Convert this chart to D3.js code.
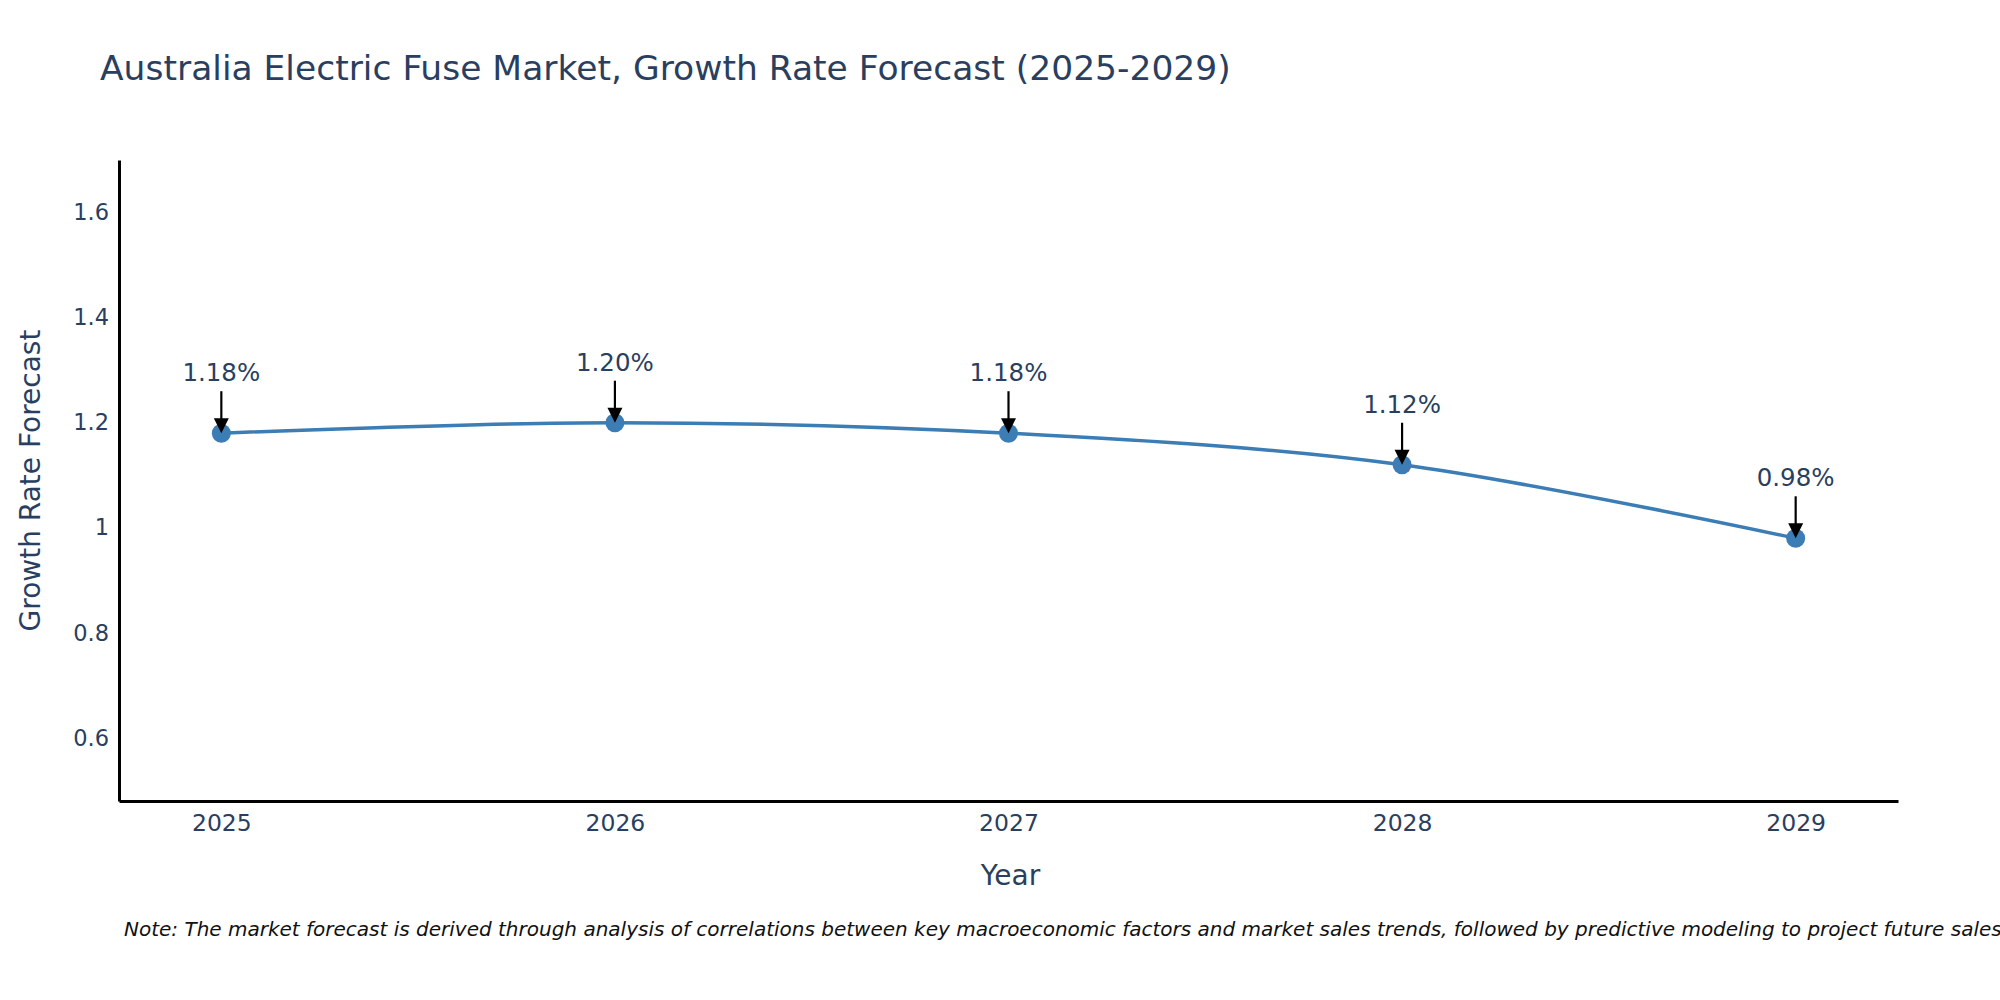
<!DOCTYPE html>
<html>
<head>
<meta charset="utf-8">
<script src="https://cdn.jsdelivr.net/npm/d3@7"></script>
<style>
  html, body { margin: 0; padding: 0; background: #fff; overflow: hidden; }
  svg { display: block; font-family: "DejaVu Sans", Verdana, sans-serif; }
</style>
</head>
<body>
<svg id="chart" width="2000" height="1000"></svg>
<script>
const years = [2025, 2026, 2027, 2028, 2029];
const growthRates = [1.18, 1.20, 1.18, 1.12, 0.98];
const annotationLabels = ["1.18%", "1.20%", "1.18%", "1.12%", "0.98%"];
const yTickValues = [0.6, 0.8, 1.0, 1.2, 1.4, 1.6];
const titleText = "Australia Electric Fuse Market, Growth Rate Forecast (2025-2029)";
const xTitle = "Year";
const yTitle = "Growth Rate Forecast";
const noteText = "Note: The market forecast is derived through analysis of correlations between key macroeconomic factors and market sales trends, followed by predictive modeling to project future sales.";

const textColor = "#2a3f5f";
const lineColor = "#3b7db4";
const plot = { left: 119, right: 1898, top: 160, bottom: 801 };

const svg = d3.select("#chart");
svg.append("rect").attr("width", 2000).attr("height", 1000).attr("fill", "#fff");

const x = d3.scaleLinear().domain([2024.74, 2029.26]).range([plot.left, plot.right]);
const y = d3.scaleLinear().domain([0.48, 1.70]).range([plot.bottom, plot.top]);

// Title
svg.append("text").attr("x", 100).attr("y", 80)
  .attr("fill", textColor).attr("font-size", 34.5).text(titleText);

// Axes
const xAxis = d3.axisBottom(x).tickValues(years).tickFormat(d3.format("d")).tickSize(0).tickPadding(13);
const gx = svg.append("g").attr("transform", `translate(0,${plot.bottom})`).call(xAxis);
gx.select(".domain").attr("stroke", "#000").attr("stroke-width", 3);
gx.selectAll("text").attr("fill", textColor).attr("font-size", 23.5).attr("font-family", "DejaVu Sans");

const yAxis = d3.axisLeft(y).tickValues(yTickValues).tickFormat(d => d3.format("~g")(d)).tickSize(0).tickPadding(10);
const gy = svg.append("g").attr("transform", `translate(${plot.left},0)`).call(yAxis);
gy.select(".domain").attr("stroke", "#000").attr("stroke-width", 3);
gy.selectAll("text").attr("fill", textColor).attr("font-size", 22.5).attr("font-family", "DejaVu Sans");

// Axis titles
svg.append("text").attr("x", (plot.left + plot.right) / 2 + 2).attr("y", 885)
  .attr("text-anchor", "middle").attr("fill", textColor).attr("font-size", 28).text(xTitle);
svg.append("text").attr("transform", `translate(40,${(plot.top + plot.bottom) / 2}) rotate(-90)`)
  .attr("text-anchor", "middle").attr("fill", textColor).attr("font-size", 28).text(yTitle);

// Line
const data = years.map((yr, i) => ({ year: yr, value: growthRates[i], label: annotationLabels[i] }));
const line = d3.line().x(d => x(d.year)).y(d => y(d.value)).curve(d3.curveCardinal.tension(0));
svg.append("path").datum(data).attr("d", line)
  .attr("fill", "none").attr("stroke", lineColor).attr("stroke-width", 3.5);

// Markers
svg.selectAll("circle.pt").data(data).enter().append("circle")
  .attr("class", "pt").attr("cx", d => x(d.year)).attr("cy", d => y(d.value))
  .attr("r", 9.5).attr("fill", lineColor);

// Annotations
const ann = svg.selectAll("g.ann").data(data).enter().append("g").attr("class", "ann");
ann.append("line")
  .attr("x1", d => x(d.year)).attr("x2", d => x(d.year))
  .attr("y1", d => y(d.value) - 42).attr("y2", d => y(d.value) - 12)
  .attr("stroke", "#000").attr("stroke-width", 2.2);
ann.append("path")
  .attr("d", d => {
    const cx = x(d.year), cy = y(d.value);
    return `M${cx - 7.5},${cy - 15} L${cx + 7.5},${cy - 15} L${cx},${cy} Z`;
  })
  .attr("fill", "#000");
ann.append("text")
  .attr("x", d => x(d.year)).attr("y", d => y(d.value) - 52)
  .attr("text-anchor", "middle").attr("fill", textColor).attr("font-size", 24.5)
  .text(d => d.label);

// Note
svg.append("text").attr("x", 124).attr("y", 936)
  .attr("fill", "#111").attr("font-size", 20).attr("font-style", "italic").text(noteText);
</script>
</body>
</html>
